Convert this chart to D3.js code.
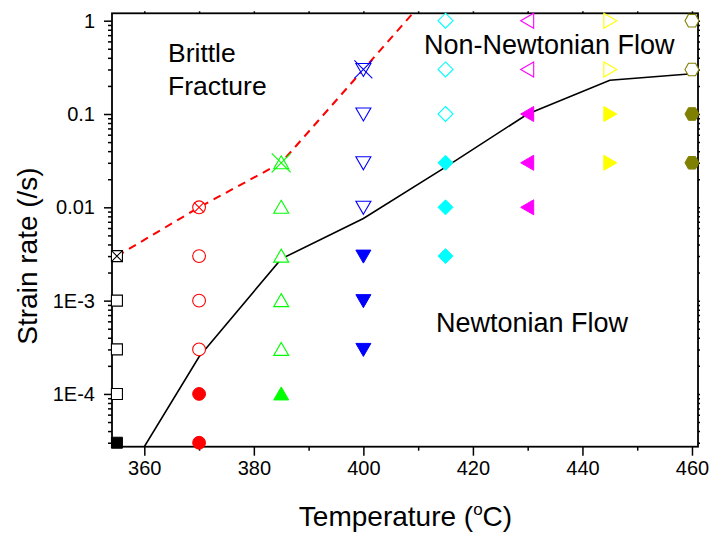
<!DOCTYPE html>
<html><head><meta charset="utf-8">
<script src="https://cdn.jsdelivr.net/npm/d3@7"></script>
<style>body{margin:0;background:#fff}svg{display:block}text{font-family:"Liberation Sans",Arial,sans-serif}</style>
</head><body><svg id="c" width="712" height="534"></svg>
<script>
// ---- data ----
const temps = [355, 370, 385, 400, 415, 430, 445, 460];
const colors = ["#000000", "#ff0000", "#00ff00", "#0000ff", "#00ffff", "#ff00ff", "#ffff00", "#808000"];
const symbols = ["square", "circle", "triUp", "triDown", "diamond", "triLeft", "triRight", "hexagon"];
const filledRates = [[3e-5], [3e-5, 1e-4], [1e-4], [3e-4, 1e-3, 3e-3], [3e-3, 0.01, 0.03], [0.01, 0.03, 0.1], [0.03, 0.1], [0.03, 0.1]];
const openRates = [[1e-4, 3e-4, 1e-3], [3e-4, 1e-3, 3e-3], [3e-4, 1e-3, 3e-3, 0.01], [0.01, 0.03, 0.1], [0.1, 0.3, 1], [0.3, 1], [0.3, 1], [0.3, 1]];
const fractureRates = [3e-3, 0.01, 0.03, 0.3, null, null, null, null];
const newtonT = [360, 370, 385, 400, 415, 430, 445, 460];
const newtonRate = [2.72e-5, 2.5e-4, 2.8e-3, 7.6e-3, 0.027, 0.1, 0.23, 0.27];
const brittleT = [355, 370, 385, 400, 415];
const brittleRate = [3e-3, 0.01, 0.03, 0.3, 3];
const xTicks = [360, 380, 400, 420, 440, 460];
const xMinor = [370, 390, 410, 430, 450];
const yTicks = [1e-4, 1e-3, 0.01, 0.1, 1];
const yTickLabels = ["1E-4", "1E-3", "0.01", "0.1", "1"];

// ---- layout ----
const L = 112, R = 698, T = 13.3, B = 446.7;
const svg = d3.select("#c");
const x = d3.scaleLinear().domain([354.1, 461.1]).range([L, R]);
const y = d3.scaleLog().domain([2.72e-5, 1.2]).range([B, T]);

svg.append("defs").append("clipPath").attr("id", "clip")
  .append("rect").attr("x", L).attr("y", T).attr("width", R - L).attr("height", B - T);

const yMinor = y.ticks().filter(v => !yTicks.some(t => Math.abs(t - v) / t < 1e-6));

// axes
function styleAxis(g) {
  g.selectAll("path.domain").remove();
  g.selectAll("line").attr("stroke", "#000").attr("stroke-width", 1.5);
  g.selectAll("text").attr("fill", "#000").style("font-size", "20px").style("font-family", '"Liberation Sans",Arial,sans-serif');
}
svg.append("g").attr("transform", `translate(0,${B})`)
  .call(d3.axisBottom(x).tickValues(xTicks).tickSize(9).tickPadding(5).tickFormat(d3.format("d"))).call(styleAxis);
svg.append("g").attr("transform", `translate(0,${B})`)
  .call(d3.axisBottom(x).tickValues(xMinor).tickSize(4).tickFormat("")).call(styleAxis);
svg.append("g").attr("transform", `translate(0,${T})`)
  .call(d3.axisTop(x).tickValues(xTicks.concat(xMinor)).tickSize(2).tickFormat("")).call(styleAxis);
svg.append("g").attr("transform", `translate(${L},0)`)
  .call(d3.axisLeft(y).tickValues(yTicks).tickSize(8).tickPadding(9).tickFormat((d, i) => yTickLabels[i])).call(styleAxis);
svg.append("g").attr("transform", `translate(${L},0)`)
  .call(d3.axisLeft(y).tickValues(yMinor).tickSize(4).tickFormat("")).call(styleAxis);
svg.append("g").attr("transform", `translate(${R},0)`)
  .call(d3.axisRight(y).tickValues(yTicks.concat(yMinor)).tickSize(2).tickFormat("")).call(styleAxis);

svg.append("rect").attr("x", L).attr("y", T).attr("width", R - L).attr("height", B - T)
  .attr("fill", "none").attr("stroke", "#000").attr("stroke-width", 1.8);

// boundary lines
const lineGen = d3.line().x(d => x(d[0])).y(d => y(d[1]));
svg.append("path").attr("clip-path", "url(#clip)")
  .attr("d", lineGen(newtonT.map((t, i) => [t, newtonRate[i]])))
  .attr("fill", "none").attr("stroke", "#000").attr("stroke-width", 1.6);
svg.append("path").attr("clip-path", "url(#clip)")
  .attr("d", lineGen(brittleT.map((t, i) => [t, brittleRate[i]])))
  .attr("fill", "none").attr("stroke", "#ff0000").attr("stroke-width", 2).attr("stroke-dasharray", "8,6");

// markers
function shape(name) {
  const p = d3.path();
  const poly = pts => { p.moveTo(pts[0][0], pts[0][1]); pts.slice(1).forEach(q => p.lineTo(q[0], q[1])); p.closePath(); };
  switch (name) {
    case "square": poly([[-5.5, -5.5], [5.5, -5.5], [5.5, 5.5], [-5.5, 5.5]]); break;
    case "circle": p.arc(0, 0, 6.4, 0, 2 * Math.PI); p.closePath(); break;
    case "triUp": poly([[0, -7], [7.5, 6], [-7.5, 6]]); break;
    case "triDown": poly([[0, 7], [7.5, -6], [-7.5, -6]]); break;
    case "diamond": poly([[0, -7.5], [7.5, 0], [0, 7.5], [-7.5, 0]]); break;
    case "triLeft": poly([[-7, 0], [6, -7.5], [6, 7.5]]); break;
    case "triRight": poly([[7, 0], [-6, -7.5], [-6, 7.5]]); break;
    case "hexagon": poly([[-7, 0], [-3.5, -6.3], [3.5, -6.3], [7, 0], [3.5, 6.3], [-3.5, 6.3]]); break;
  }
  return p.toString();
}
const crossSize = { square: 5.5, circle: 5, triUp: 9.5, triDown: 9 };

const mk = svg.append("g");
temps.forEach((t, i) => {
  const c = colors[i], s = shape(symbols[i]);
  openRates[i].forEach(v => {
    mk.append("path").attr("d", s).attr("transform", `translate(${x(t)},${y(v)})`)
      .attr("fill", "#fff").attr("stroke", c).attr("stroke-width", 1.1);
  });
  filledRates[i].forEach(v => {
    mk.append("path").attr("d", s).attr("transform", `translate(${x(t)},${y(v)})`)
      .attr("fill", c).attr("stroke", c).attr("stroke-width", 1);
  });
  const f = fractureRates[i];
  if (f != null) {
    const g = mk.append("g").attr("transform", `translate(${x(t)},${y(f)})`);
    g.append("path").attr("d", s).attr("fill", "#fff").attr("stroke", c).attr("stroke-width", 1.1);
    const k = crossSize[symbols[i]];
    g.append("path").attr("d", `M${-k},${-k}L${k},${k}M${-k},${k}L${k},${-k}`)
      .attr("stroke", c).attr("stroke-width", 1.1).attr("fill", "none");
  }
});

// annotations
const ann = [["Brittle", 168, 62, 26.5], ["Fracture", 168, 95, 26.5], ["Non-Newtonian Flow", 424, 54, 27], ["Newtonian Flow", 436, 331.5, 27]];
ann.forEach(a => svg.append("text").attr("x", a[1]).attr("y", a[2]).style("font-size", a[3] + "px").attr("fill", "#000").text(a[0]));

// axis titles
const xt = svg.append("text").attr("x", 405.5).attr("y", 526).attr("text-anchor", "middle").style("font-size", "28px");
xt.append("tspan").text("Temperature (");
xt.append("tspan").attr("dy", -11).style("font-size", "17px").text("o");
xt.append("tspan").attr("dy", 11).text("C)");
svg.append("text").attr("transform", "translate(36.5,256) rotate(-90)").attr("text-anchor", "middle")
  .style("font-size", "28px").text("Strain rate (/s)");
</script></body></html>
